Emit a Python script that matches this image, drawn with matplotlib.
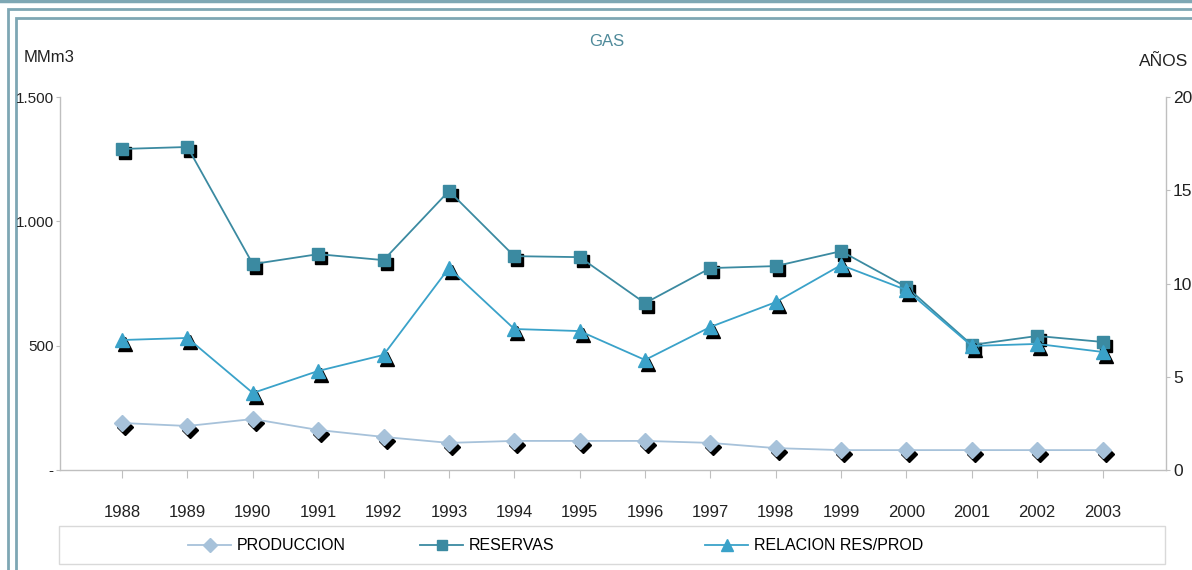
import matplotlib
matplotlib.use("Agg")
import matplotlib.pyplot as plt
from matplotlib.lines import Line2D
from matplotlib.patches import Rectangle
from matplotlib.ticker import FuncFormatter
import matplotlib.transforms as mtransforms

years = ["1988", "1989", "1990", "1991", "1992", "1993", "1994", "1995",
         "1996", "1997", "1998", "1999", "2000", "2001", "2002", "2003"]
produccion = [189, 177, 205, 161, 133, 109, 117, 117, 117, 109, 88, 80, 80, 80, 80, 80]
reservas = [1291, 1299, 828, 868, 844, 1122, 860, 856, 671, 812, 820, 880, 736, 503, 539, 515]
relacion = [6.97, 7.08, 4.13, 5.31, 6.17, 10.83, 7.56, 7.45, 5.9, 7.67, 9.0, 10.99, 9.65, 6.65, 6.76, 6.33]

C_PROD = "#a7c2da"
C_RES = "#3b8aa1"
C_REL = "#3aa2c9"
C_AXIS = "#bfbfbf"
C_FRAME = "#7ea7b4"

plt.rcParams["font.family"] = ["Liberation Sans Narrow", "Liberation Sans", "DejaVu Sans"]

fig = plt.figure(figsize=(11.92, 5.70), dpi=100)
W, H = 1192, 570


def fx(px):
    return px / W


def fy(py):
    return 1 - py / H


# double frame like the original sheet
for (x0, y0, lw) in [(8, 9, 2.0), (16, 18, 2.0)]:
    fig.patches.append(Rectangle((fx(x0), fy(H + 20)), fx(W + 20 - x0), fy(y0) - fy(H + 20),
                                 transform=fig.transFigure, fill=False,
                                 edgecolor=C_FRAME, linewidth=lw, zorder=-1))
fig.add_artist(Line2D([0, 1], [fy(1), fy(1)], transform=fig.transFigure,
                      color=C_FRAME, linewidth=2.5, zorder=-1))

ax = fig.add_axes([fx(60), fy(470), fx(1166) - fx(60), fy(97) - fy(470)])
ax2 = ax.twinx()
ax.patch.set_alpha(0)
ax2.patch.set_alpha(0)

x = list(range(len(years)))

# shadows first
sh1 = mtransforms.offset_copy(ax.transData, fig=fig, x=3, y=-4, units="dots")
sh2 = mtransforms.offset_copy(ax2.transData, fig=fig, x=3, y=-4, units="dots")
ax.plot(x, produccion, linestyle="none", marker="D", markersize=8,
        color="black", transform=sh1, zorder=2)
ax.plot(x, reservas, linestyle="none", marker="s", markersize=8,
        color="black", transform=sh1, zorder=2)
ax2.plot(x, relacion, linestyle="none", marker="^", markersize=10,
         color="black", transform=sh2, zorder=2)

ax.plot(x, produccion, color=C_PROD, linewidth=1.3, marker="D", markersize=8,
        markerfacecolor=C_PROD, markeredgecolor=C_PROD, zorder=3)
ax.plot(x, reservas, color=C_RES, linewidth=1.3, marker="s", markersize=8,
        markerfacecolor=C_RES, markeredgecolor=C_RES, zorder=3)
ax2.plot(x, relacion, color=C_REL, linewidth=1.3, marker="^", markersize=10,
         markerfacecolor=C_REL, markeredgecolor=C_REL, zorder=3)

ax.set_xlim(-0.95, 15.97)
ax.set_ylim(0, 1500)
ax2.set_ylim(0, 20)

ax.set_xticks(x)
ax.set_xticklabels(years)
ax.set_yticks([0, 500, 1000, 1500])
ax.yaxis.set_major_formatter(FuncFormatter(
    lambda v, p: "-" if v == 0 else f"{int(v):,}".replace(",", ".")))
ax2.set_yticks([0, 5, 10, 15, 20])

for a in (ax, ax2):
    for s in a.spines.values():
        s.set_color(C_AXIS)
        s.set_linewidth(1.0)
    a.spines["top"].set_visible(False)
ax.spines["right"].set_visible(False)
ax2.spines["left"].set_visible(False)
ax2.spines["bottom"].set_visible(False)

ax.tick_params(axis="x", length=6, color=C_AXIS, labelsize=12, pad=19, labelcolor="#222222")
ax.tick_params(axis="y", length=3, color=C_AXIS, labelsize=11, pad=1.5, labelcolor="#222222")
ax2.tick_params(axis="y", length=3, color=C_AXIS, labelsize=12.5, pad=2, labelcolor="#222222")

fig.text(fx(607), fy(42), "GAS", color="#4f8a9a", fontsize=12, ha="center", va="center")
fig.text(fx(24), fy(58), "MMm3", color="#222222", fontsize=12, ha="left", va="center")
fig.text(fx(1188), fy(62), "AÑOS", color="#222222", fontsize=12.5, ha="right", va="center")

# legend box
fig.patches.append(Rectangle((fx(59), fy(564)), fx(1165) - fx(59), fy(526) - fy(564),
                             transform=fig.transFigure, fill=False,
                             edgecolor="#d9d9d9", linewidth=1.0))
entries = [
    (188, "PRODUCCION", C_PROD, "D", 7.5),
    (420, "RESERVAS", C_RES, "s", 7.5),
    (705, "RELACION RES/PROD", C_REL, "^", 9),
]
for px, label, col, mk, ms in entries:
    h = Line2D([], [], color=col, linewidth=1.3, marker=mk, markersize=ms,
               markerfacecolor=col, markeredgecolor=col)
    fig.legend([h], [label], loc="center left", bbox_to_anchor=(fx(px), fy(546)),
               frameon=False, borderpad=0, borderaxespad=0, handlelength=2.7,
               handletextpad=0.35, prop={"family": ["Liberation Sans", "DejaVu Sans"], "size": 11.5})

fig.savefig("out.png", dpi=100)
